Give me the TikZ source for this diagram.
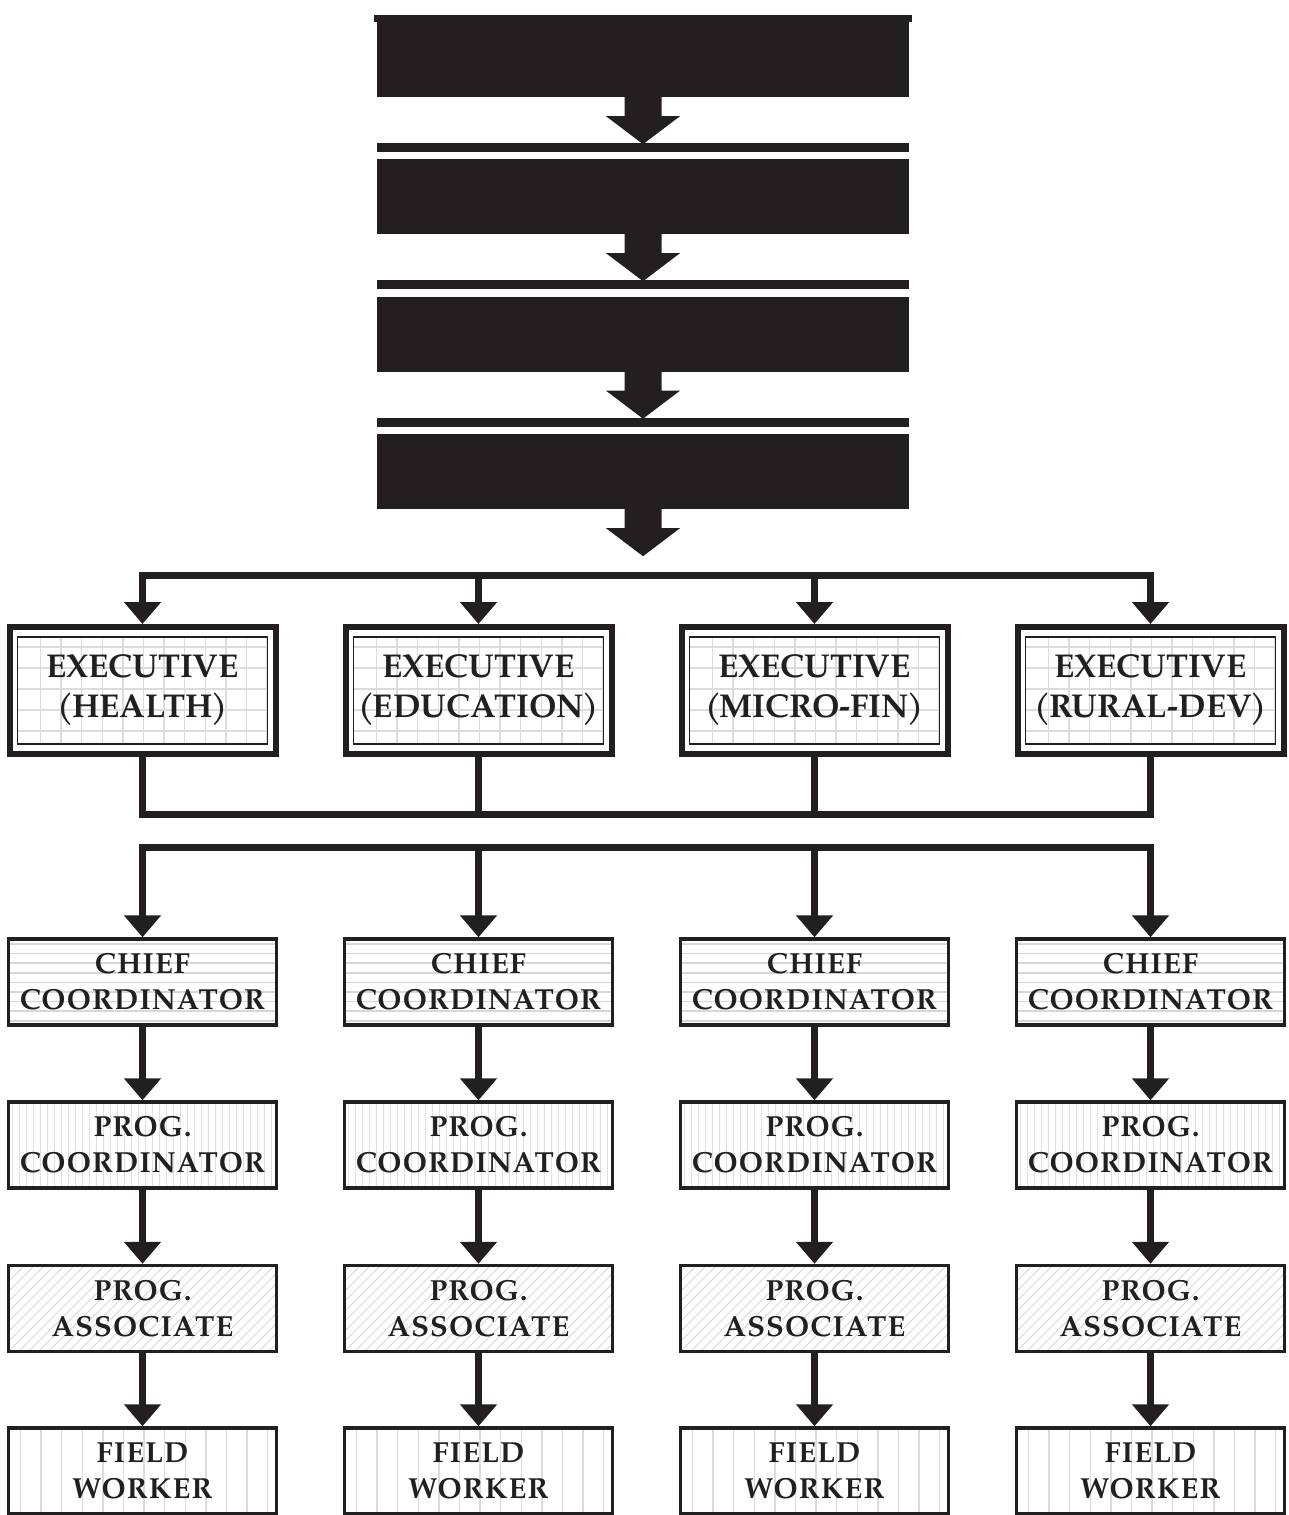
\documentclass[tikz,border=0pt]{standalone}
\usepackage{fontspec}
\setmainfont{texgyrepagella}[Extension=.otf, UprightFont=*-regular, BoldFont=*-bold, ItalicFont=*-italic, BoldItalicFont=*-bolditalic]
\newfontfamily\trkfont{texgyrepagella}[Extension=.otf, UprightFont=*-bold, LetterSpace=4]
\usetikzlibrary{arrows.meta,calc}
\definecolor{ink}{RGB}{35,31,32}
\definecolor{gridc}{RGB}{220,220,220}
\definecolor{hatchc}{RGB}{215,215,215}
\newcommand\lp{(\kern-1.5pt}
\newcommand\rp{\kern-1.5pt)}
\tikzset{
  topbox/.style={fill=ink, inner sep=0pt, minimum width=532pt, minimum height=75pt},
  execbox/.style={draw=ink, fill=white, line width=6pt, minimum width=266pt, minimum height=127pt,
    inner sep=0pt, align=center, text=ink, font=\bfseries\fontsize{33}{40}\selectfont,
    path picture={
      \begin{scope}
        \clip ([shift={(8pt,10pt)}]path picture bounding box.south west) rectangle ([shift={(-8pt,-10pt)}]path picture bounding box.north east);
        \foreach \k in {0,...,12} {\draw[gridc, line width=1.3pt] ([xshift=31pt+20.6pt*\k]path picture bounding box.south west) -- ++(0pt,200pt);}
        \foreach \k in {0,...,6} {\draw[gridc, line width=1.3pt] ([yshift=-20pt-21pt*\k]path picture bounding box.north west) -- ++(300pt,0pt);}
      \end{scope}
      \draw[ink, line width=1.5pt] ([shift={(8pt,10pt)}]path picture bounding box.south west) rectangle ([shift={(-8pt,-10pt)}]path picture bounding box.north east);
    }},
  lowbox/.style={draw=ink, fill=white, line width=3.5pt, minimum width=268pt, minimum height=86pt,
    inner sep=0pt, align=center, text=ink, font=\trkfont\fontsize{29}{36}\selectfont},
  chiefbox/.style={lowbox, path picture={
      \foreach \k in {0,...,9} {\draw[hatchc, line width=1.5pt] ([yshift=-5pt-9.6pt*\k]path picture bounding box.north west) -- ++(300pt,0pt);}
    }},
  progbox/.style={lowbox, path picture={
      \foreach \k in {0,...,40} {\draw[hatchc!80, line width=1pt] ([xshift=4pt+7pt*\k]path picture bounding box.south west) -- ++(0pt,120pt);}
    }},
  assocbox/.style={lowbox, path picture={
      \foreach \k in {0,...,40} {\draw[hatchc, line width=1pt] ([xshift=-100pt+10pt*\k]path picture bounding box.south west) -- ++(110pt,110pt);}
    }},
  fieldbox/.style={lowbox, path picture={
      \foreach \k in {0,...,13} {\draw[gridc, line width=1.3pt] ([xshift=12pt+20.6pt*\k]path picture bounding box.south west) -- ++(0pt,120pt);}
    }},
  bus/.style={draw=ink, line width=7pt},
  tip/.tip={Triangle[width=36pt,length=22pt]},
  conn/.style={bus, -tip},
  dconn/.style={bus, tip-tip}
}
\newcommand\blockarrow[1]{\fill[ink] ([yshift=1pt]#1) ++(-18.5,0) -- ++(0,20) -- ++(-18.5,0) -- ++(37,28) -- ++(37,-28) -- ++(-18.5,0) -- ++(0,-20) -- cycle;}
\begin{document}
\begin{tikzpicture}[x=1pt,y=-1pt]
\useasboundingbox (0,0) rectangle (1289,1515);
% top black boxes
\node[topbox] (t1) at (643,59.5) {};
\node[topbox] (t2) at (643,196.5) {};
\node[topbox] (t3) at (643,334) {};
\node[topbox] (t4) at (643,471.5) {};
\fill[ink] ([xshift=-3pt]t1.north west) rectangle ([shift={(3pt,7pt)}]t1.north east);
\foreach \t in {t2,t3,t4} {\fill[ink] ([yshift=7pt]\t.north west) rectangle ([yshift=16pt]\t.north east);}
\foreach \t in {t1,t2,t3,t4} {\blockarrow{\t.south}}
% executive boxes
\node[execbox] (e1) at (142.5,690.5) {EXECUTIVE\\\lp HEALTH\rp};
\node[execbox] (e2) at (478.5,690.5) {EXECUTIVE\\\lp EDUCATION\rp};
\node[execbox] (e3) at (814.5,690.5) {EXECUTIVE\\\lp MICRO-FIN\rp};
\node[execbox] (e4) at (1150.5,690.5) {EXECUTIVE\\\lp RURAL-DEV\rp};
% lower columns
\foreach \i/\x in {1/142.5,2/478.5,3/814.5,4/1150.5} {
  \node[chiefbox] (c\i) at (\x,982) {CHIEF\\COORDINATOR};
  \node[progbox]  (p\i) at (\x,1145) {PROG.\\COORDINATOR};
  \node[assocbox] (a\i) at (\x,1308.5) {PROG.\\ASSOCIATE};
  \node[fieldbox] (f\i) at (\x,1471) {FIELD\\WORKER};
  \draw[conn] (c\i.south) -- (p\i.north);
  \draw[conn] (p\i.south) -- (a\i.north);
  \draw[conn] (a\i.south) -- (f\i.north);
}
% buses
\coordinate (b1) at (646.5,575);
\coordinate (b2) at (646.5,814);
\coordinate (b3) at (646.5,847);
\draw[dconn] (e1.north) -- (e1.north |- b1) -- (e4.north |- b1) -- (e4.north);
\draw[conn] (e2.north |- b1) -- (e2.north);
\draw[conn] (e3.north |- b1) -- (e3.north);
\draw[bus] (e1.south) -- (e1.south |- b2) -- (e4.south |- b2) -- (e4.south);
\draw[bus] (e2.south) -- (e2.south |- b2);
\draw[bus] (e3.south) -- (e3.south |- b2);
\draw[dconn] (c1.north) -- (c1.north |- b3) -- (c4.north |- b3) -- (c4.north);
\draw[conn] (c2.north |- b3) -- (c2.north);
\draw[conn] (c3.north |- b3) -- (c3.north);
\end{tikzpicture}
\end{document}
